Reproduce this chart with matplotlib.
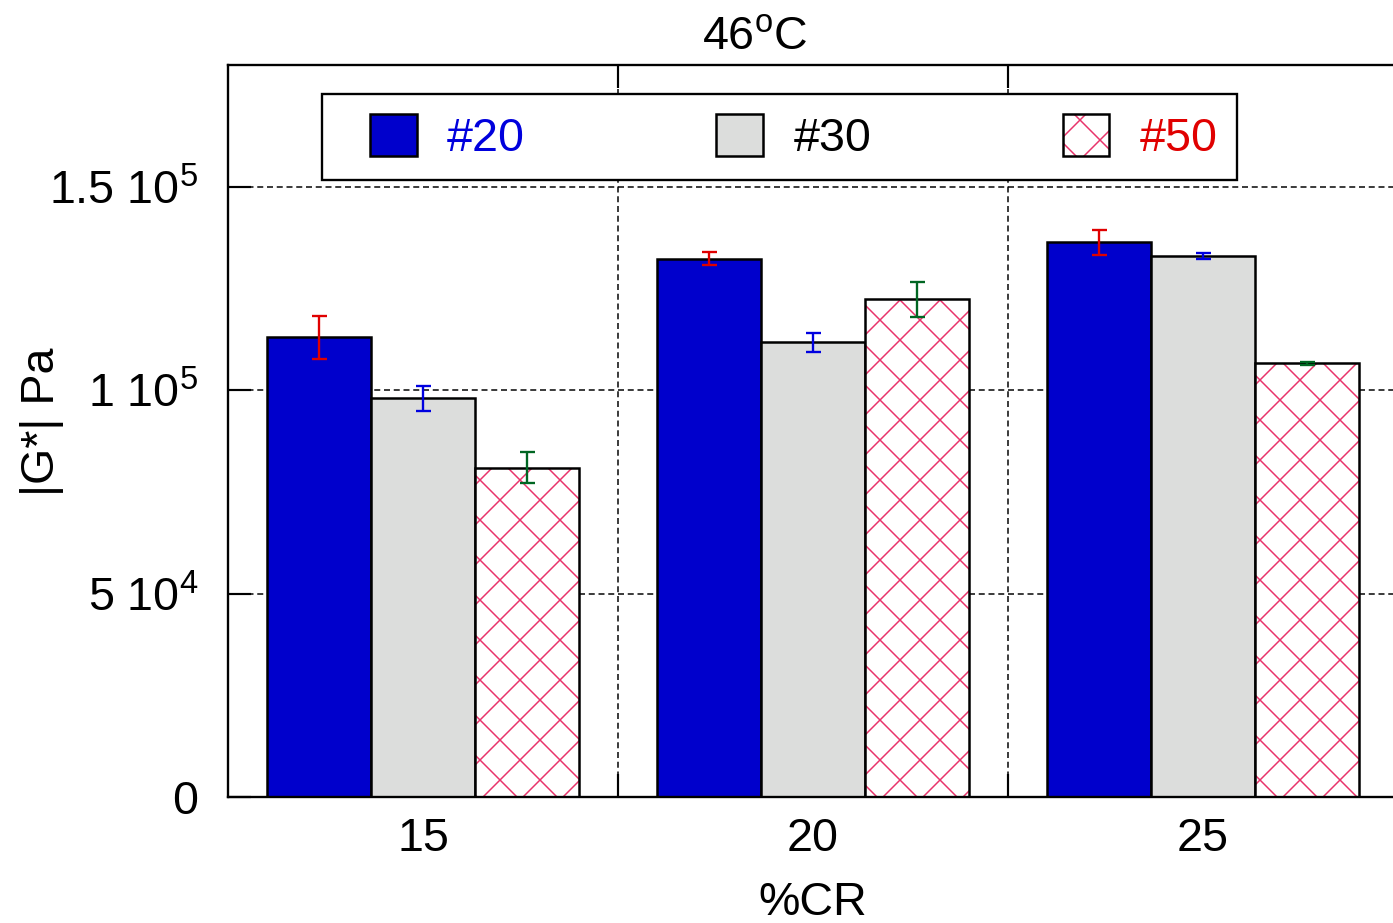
import matplotlib
matplotlib.use('Agg')
import matplotlib.pyplot as plt
from matplotlib.patches import Patch, Rectangle
from matplotlib.legend_handler import HandlerTuple
import numpy as np

plt.rcParams['font.family'] = ['Liberation Sans', 'DejaVu Sans']
plt.rcParams['mathtext.fontset'] = 'custom'
plt.rcParams['mathtext.rm'] = 'Liberation Sans'
plt.rcParams['mathtext.it'] = 'Liberation Sans:italic'
plt.rcParams['hatch.linewidth'] = 0.9

# crumb-rubber content (%) and complex modulus |G*| (Pa) at 46 C
cr_levels = [15, 20, 25]
series_names = ['#20', '#30', '#50']
g20 = [113000, 132300, 136400]
g30 = [98000, 111800, 133000]
g50 = [81000, 122400, 106600]
err20 = [5400, 1600, 3100]
err30 = [3000, 2300, 700]
err50 = [3900, 4300, 300]
y_ticks = [0, 50000, 100000, 150000]
y_tick_labels = ['0', r'$\mathregular{5\ 10^{4}}$', r'$\mathregular{1\ 10^{5}}$',
                 r'$\mathregular{1.5\ 10^{5}}$']

BLUE = '#0000CC'
GRAY = '#DCDDDC'
HATCH = '#E8336B'

W, H, DPI = 1393, 923, 120
fig = plt.figure(figsize=(W / DPI, H / DPI), dpi=DPI)
ax = fig.add_axes([228 / W, 1 - 797 / H, (1398 - 228) / W, (797 - 65) / H])

x = np.array(cr_levels, dtype=float)
width = 1.33
offsets = [-1.33, 0.0, 1.33]
lw_edge = 1.5

ax.bar(x + offsets[0], g20, width, color=BLUE, edgecolor='black', linewidth=lw_edge, zorder=2)
ax.bar(x + offsets[1], g30, width, color=GRAY, edgecolor='black', linewidth=lw_edge, zorder=2)
ax.bar(x + offsets[2], g50, width, color='white', edgecolor=HATCH, hatch='x', linewidth=0, zorder=2)
ax.bar(x + offsets[2], g50, width, color='none', edgecolor='black', linewidth=lw_edge, zorder=2.1)

eb_kw = dict(fmt='none', elinewidth=1.4, capsize=4.5, capthick=1.4, zorder=3)
ax.errorbar(x + offsets[0], g20, yerr=err20, ecolor='#E00000', **eb_kw)
ax.errorbar(x + offsets[1], g30, yerr=err30, ecolor='#0000E0', **eb_kw)
ax.errorbar(x + offsets[2], g50, yerr=err50, ecolor='#006622', **eb_kw)

ax.set_xlim(12.5, 27.5)
ax.set_ylim(0, 180000)
ax.set_xticks(cr_levels)
ax.set_xticklabels([str(v) for v in cr_levels])
ax.set_xticks([17.5, 22.5], minor=True)
ax.set_yticks(y_ticks)
ax.set_yticklabels(y_tick_labels)

grid_kw = dict(color='black', linewidth=0.9, linestyle=(0, (4, 2.5)))
ax.grid(axis='y', which='major', **grid_kw)
ax.grid(axis='x', which='minor', **grid_kw)
ax.set_axisbelow(True)

ax.tick_params(axis='x', which='major', length=0, pad=12, labelsize=28)
ax.tick_params(axis='x', which='minor', direction='in', length=14, width=1.3,
               top=True, bottom=True)
ax.tick_params(axis='y', direction='in', length=14, width=1.3, pad=18, labelsize=28)
for side in ['left', 'top', 'bottom', 'right']:
    ax.spines[side].set_linewidth(1.4)

ax.set_xlabel('%CR', fontsize=28, labelpad=12)
ax.set_ylabel('|G*| Pa', fontsize=28)
ax.yaxis.label.set_va('center')
ax.yaxis.set_label_coords((42 - 228) / (1398 - 228), 0.512)

fig.text(755 / W, 1 - 38 / H, r'46$\mathregular{^{o}}$C', ha='center', va='center', fontsize=28)

h20 = Patch(facecolor=BLUE, edgecolor='black', linewidth=lw_edge)
h30 = Patch(facecolor=GRAY, edgecolor='black', linewidth=lw_edge)
h50 = (Patch(facecolor='white', edgecolor=HATCH, hatch='x', linewidth=0),
       Patch(facecolor='none', edgecolor='black', linewidth=lw_edge))
leg = ax.legend([h20, h30, h50], series_names, ncol=3, loc='upper left',
                bbox_to_anchor=((370 - 228) / 1170, (797 - 114) / 732),
                frameon=False, fontsize=28, handlelength=1.0, handleheight=1.0,
                handletextpad=0.65, columnspacing=4.1, borderpad=0, borderaxespad=0,
                handler_map={tuple: HandlerTuple(ndivide=1)})
leg.set_zorder(6)
leg.get_texts()[0].set_color('#0000DD')
leg.get_texts()[2].set_color('#E00000')

# white framed box behind the legend entries
fig.canvas.draw()
bb = leg.get_window_extent()
x0, x1 = bb.x0 - 48, bb.x1 + 19
yc = (bb.y0 + bb.y1) / 2
y0, y1 = yc - 43, yc + 43
inv = ax.transAxes.inverted()
(ax0, ay0), (ax1, ay1) = inv.transform([(x0, y0), (x1, y1)])
ax.add_patch(Rectangle((ax0, ay0), ax1 - ax0, ay1 - ay0, transform=ax.transAxes,
                       facecolor='white', edgecolor='black', linewidth=1.4, zorder=5))

ax.set_xlim(12.5, 27.5)
ax.set_ylim(0, 180000)
fig.savefig('out.png', dpi=DPI)
